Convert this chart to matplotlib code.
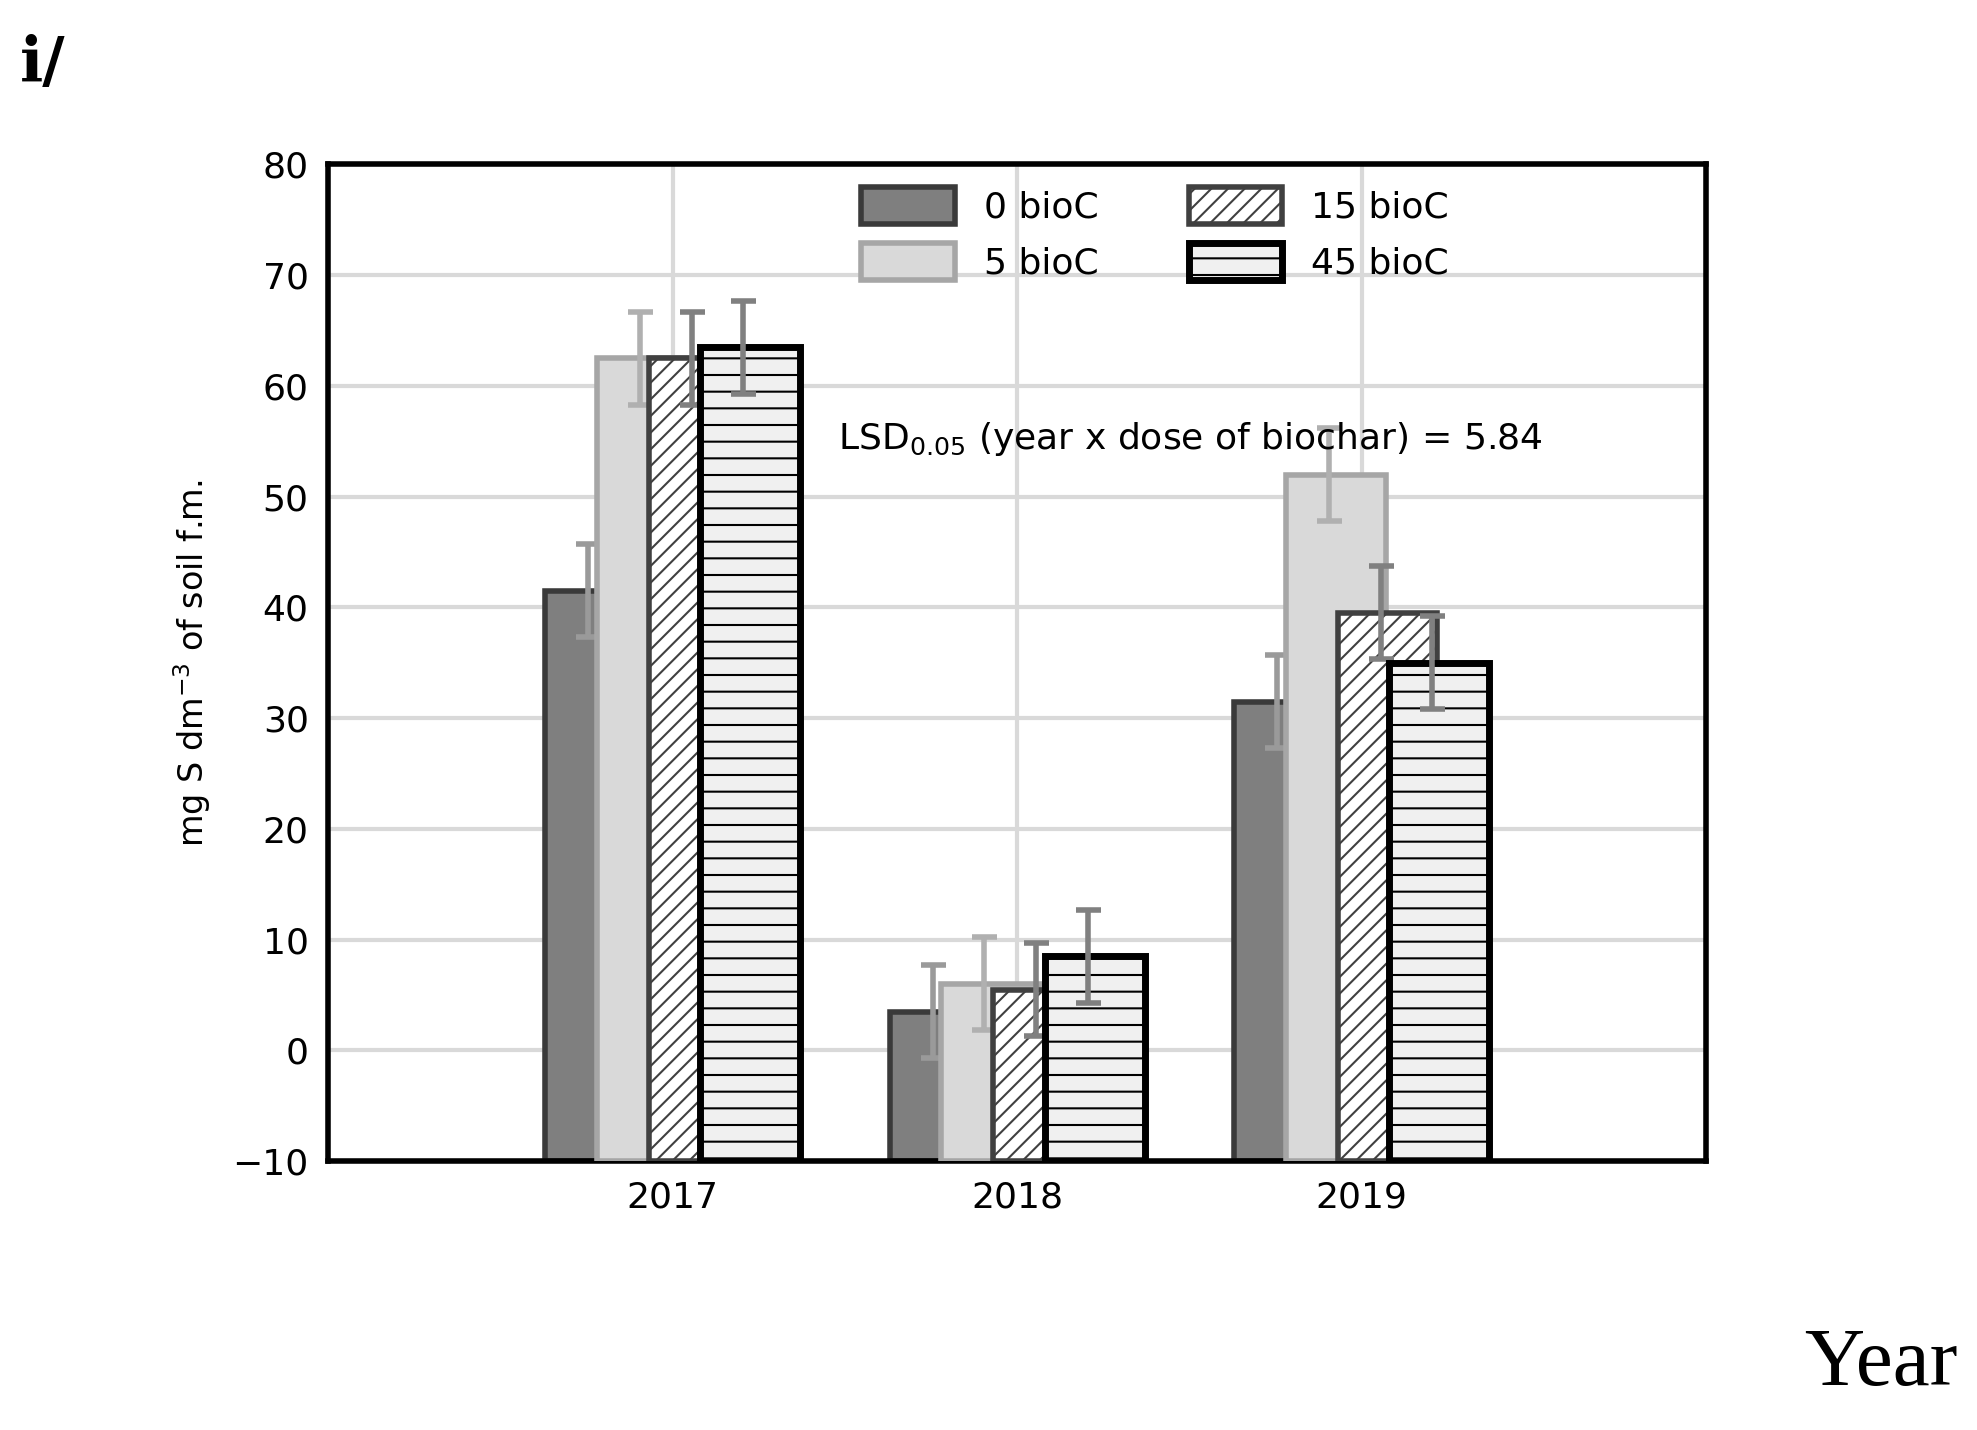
import matplotlib
matplotlib.use("Agg")
import matplotlib.pyplot as plt
import numpy as np

years = ["2017", "2018", "2019"]
series = ["0 bioC", "5 bioC", "15 bioC", "45 bioC"]
v0 = [41.5, 3.5, 31.5]
v5 = [62.5, 6.0, 52.0]
v15 = [62.5, 5.5, 39.5]
v45 = [63.5, 8.5, 35.0]
err = 4.2

plt.rcParams['hatch.linewidth'] = 1.5
fig = plt.figure(figsize=(19.77, 14.30), dpi=100)
ax = fig.add_axes([0.166, 0.188, 0.697, 0.697])
x = np.arange(1, 4)
offs = [-0.225, -0.075, 0.075, 0.225]
w = 0.29
styles = [
    dict(color="#7f7f7f", edgecolor="#3a3a3a", hatch=None, ecol="#9a9a9a"),
    dict(color="#d9d9d9", edgecolor="#a6a6a6", hatch=None, ecol="#b0b0b0"),
    dict(color="white", edgecolor="#404040", hatch="//", ecol="#808080"),
    dict(color="#f0f0f0", edgecolor="black", hatch="-", ecol="#808080"),
]
ax.set_axisbelow(True)
ax.grid(True, color="#d9d9d9", lw=3)
handles = []
for i, (vals, st) in enumerate(zip([v0, v5, v15, v45], styles)):
    vals = np.array(vals)
    lw = 5 if i == 3 else 4
    plt.rcParams['hatch.color'] = "black" if i == 3 else "#808080"
    b = ax.bar(x + offs[i], vals + 10, bottom=-10, width=w, color=st["color"],
               edgecolor=st["edgecolor"], hatch=st["hatch"], lw=lw, label=series[i], zorder=2 + i)
    ax.errorbar(x + offs[i] - 0.02, vals, yerr=err, fmt="none", ecolor=st["ecol"],
                elinewidth=4, capsize=9, capthick=4, zorder=2 + i)
    handles.append(b)

ax.set_xlim(0, 4)
ax.set_ylim(-10, 80)
ax.set_xticks(x)
ax.set_xticklabels(years)
ax.set_yticks(range(-10, 81, 10))
ax.tick_params(labelsize=26, length=0, pad=14)
for s in ax.spines.values():
    s.set_linewidth(4)
ax.set_ylabel("mg S dm$^{-3}$ of soil f.m.", fontsize=24, labelpad=14)
leg = ax.legend(handles=handles, ncol=2, loc="upper center", bbox_to_anchor=(0.6, 1.01),
                frameon=False, fontsize=26, handlelength=2.6, handleheight=1.2,
                columnspacing=2.5, handletextpad=0.8)
ax.text(0.37, 0.725, "LSD$_{0.05}$ (year x dose of biochar) = 5.84", transform=ax.transAxes,
        fontsize=26, ha="left", va="center")
fig.text(0.01, 0.955, "i/", fontsize=44, fontweight="bold", family="DejaVu Serif", va="center")
fig.text(0.99, 0.045, "Year", fontsize=60, family="Liberation Serif", ha="right", va="center")
fig.savefig("out.png", dpi=100)
